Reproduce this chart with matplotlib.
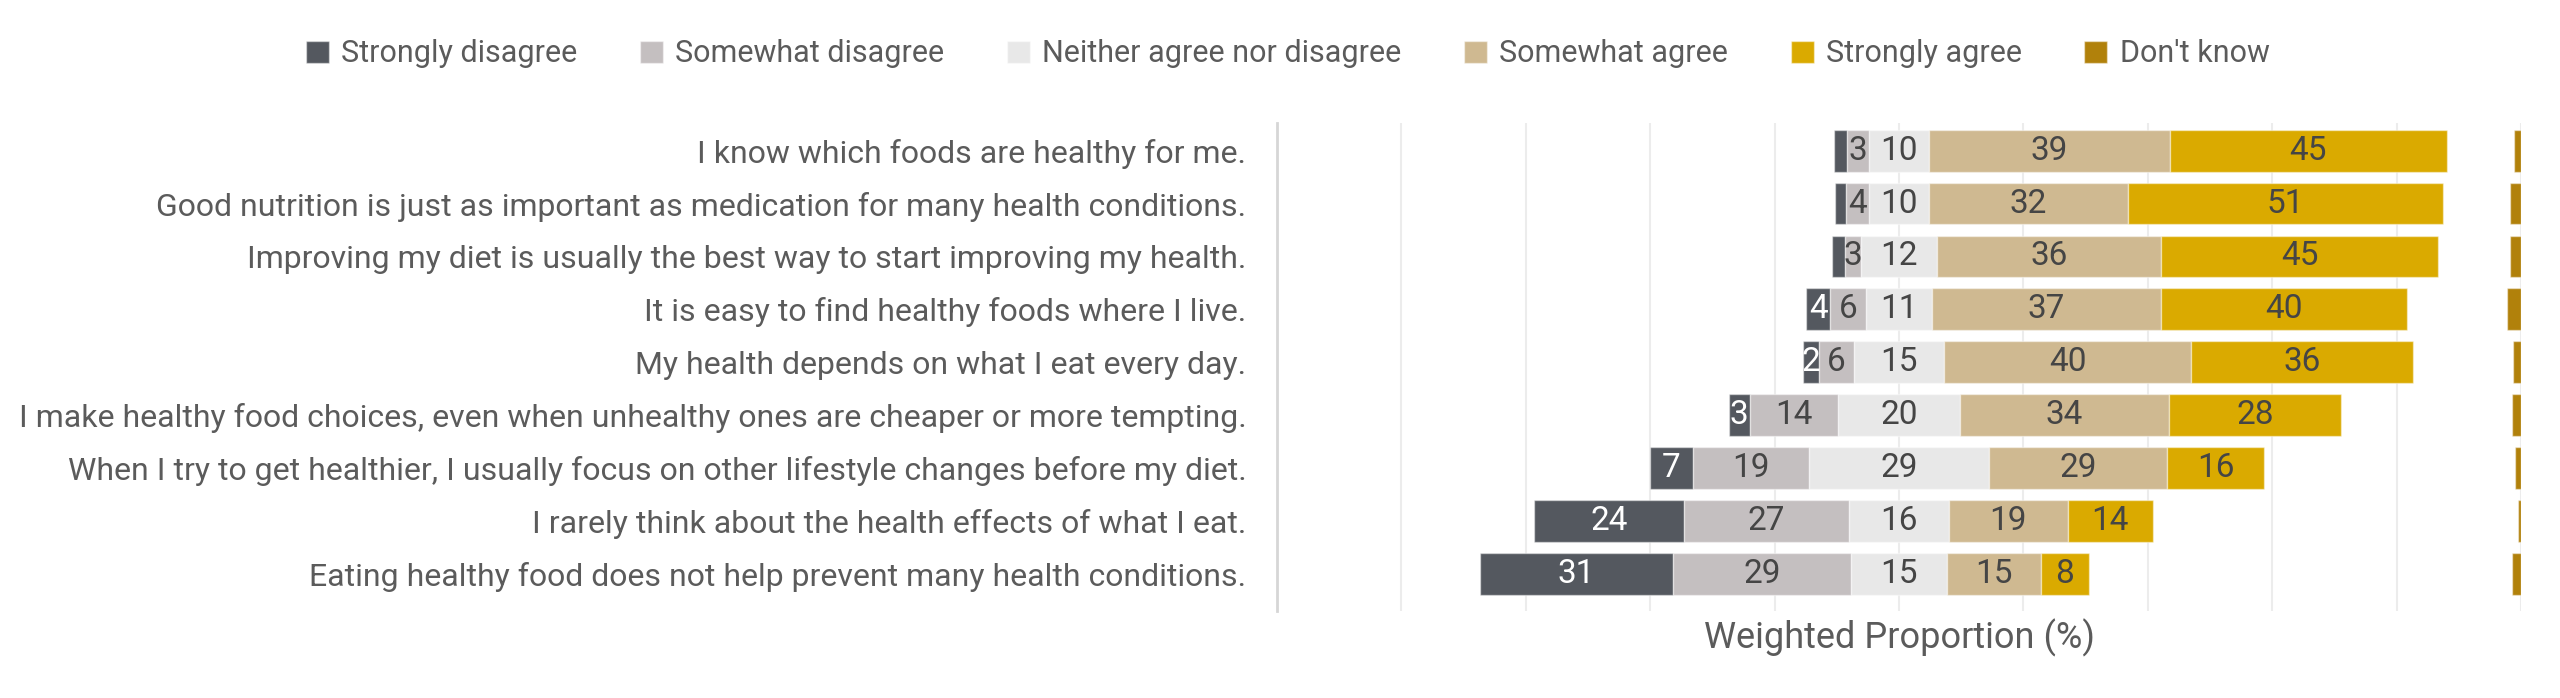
import numpy as np
import matplotlib
matplotlib.use("Agg")
from matplotlib import pyplot as plt

plt.rcParams['font.family'] = ['Roboto', 'DejaVu Sans']

statements = [
    "I know which foods are healthy for me.",
    "Good nutrition is just as important as medication for many health conditions.",
    "Improving my diet is usually the best way to start improving my health.",
    "It is easy to find healthy foods where I live.",
    "My health depends on what I eat every day.",
    "I make healthy food choices, even when unhealthy ones are cheaper or more tempting.",
    "When I try to get healthier, I usually focus on other lifestyle changes before my diet.",
    "I rarely think about the health effects of what I eat.",
    "Eating healthy food does not help prevent many health conditions.",
]

categories = ["Strongly disagree", "Somewhat disagree", "Neither agree nor disagree",
              "Somewhat agree", "Strongly agree", "Don't know"]

# weighted proportions (%), rows in the order above
strongly_disagree = [2.2, 1.8, 2.0, 3.8, 2.5, 3.4, 7.0, 24.0, 31.0]
somewhat_disagree = [3.4, 3.6, 2.6, 5.8, 5.6, 14.2, 18.6, 26.6, 28.7]
neither = [9.8, 9.7, 12.2, 10.6, 14.6, 19.6, 29.0, 16.0, 15.3]
somewhat_agree = [38.6, 31.9, 36.0, 36.8, 39.7, 33.6, 28.6, 19.1, 15.1]
strongly_agree = [44.6, 50.7, 44.6, 39.6, 35.7, 27.6, 15.6, 13.7, 7.8]
dont_know = [1.2, 1.8, 1.8, 2.2, 1.3, 1.5, 1.0, 0.5, 1.5]

colors = ["#54585f", "#c4bfc0", "#e8e8e8", "#cfb991", "#daaa00", "#b1810b"]
text_grey = "#5b5b5b"

if __name__ == "__main__":
    sd = np.array(strongly_disagree)
    swd = np.array(somewhat_disagree)
    nn = np.array(neither)
    sa = np.array(somewhat_agree)
    sta = np.array(strongly_agree)
    dk = np.array(dont_know)
    y = np.arange(len(statements))

    fig = plt.figure(figsize=(25.6, 6.98), dpi=100)
    ax = fig.add_axes([0.4988, 0.1246, 0.486, 0.699])

    # neutral centred on zero, disagree to the left, agree to the right
    start = -(sd + swd + nn / 2)
    segments = [sd, swd, nn, sa, sta]
    h = 0.79
    edge = (1, 1, 1, 0.45)
    left = start.copy()
    for i, seg in enumerate(segments):
        ax.barh(y, seg, left=left, height=h, color=colors[i], edgecolor=edge,
                linewidth=1, label=categories[i], zorder=2)
        for yy, l, w in zip(y, left, seg):
            if w >= 2.4:
                ax.text(l + w / 2, yy, f"{w:.0f}", ha="center", va="center",
                        fontsize=24, color="white" if i == 0 else "#454545",
                        zorder=3)
        left = left + seg
    # don't know pinned to the right edge
    ax.barh(y, dk, left=100 - dk, height=h, color=colors[5], edgecolor=edge,
            linewidth=1, label=categories[5], zorder=2)

    ax.set_xlim(-100, 100)
    ax.set_ylim(8.7, -0.52)
    ax.set_xticks(np.arange(-80, 101, 20))
    ax.xaxis.grid(True, color="#ececec", linewidth=1.5, zorder=0)
    ax.set_axisbelow(True)
    ax.tick_params(axis="x", length=0, labelbottom=False)
    ax.tick_params(axis="y", length=0, pad=22, labelsize=23, labelcolor=text_grey)
    ax.set_yticks(y)
    ax.set_yticklabels(statements)
    for s in ["top", "right", "bottom"]:
        ax.spines[s].set_visible(False)
    ax.spines["left"].set_color("#d6d6d6")
    ax.spines["left"].set_linewidth(2)

    ax.set_xlabel("Weighted Proportion (%)", fontsize=26, color=text_grey)
    ax.xaxis.set_label_coords(0.5, -0.055)
    ax.xaxis.label.set_va("center")

    fig.legend(loc="center", bbox_to_anchor=(0.503, 1 - 54 / 698), ncol=6,
               frameon=False, fontsize=22, labelcolor=text_grey,
               handlelength=0.75, handleheight=0.75, handletextpad=0.4,
               columnspacing=2.05)

    plt.savefig("out.png", dpi=100)
